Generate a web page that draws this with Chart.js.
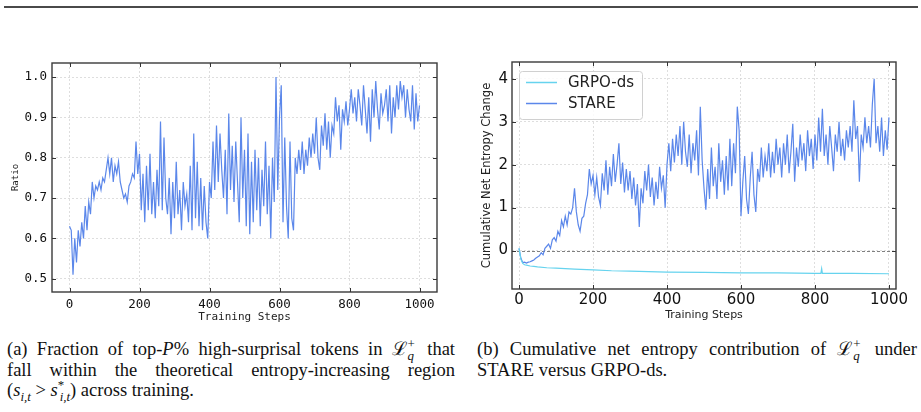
<!DOCTYPE html>
<html lang="en">
<head>
<meta charset="UTF-8">
<title>Surprisal ratio and entropy change</title>
<script src="https://cdn.jsdelivr.net/npm/chart.js@4.4.1/dist/chart.umd.min.js"></script>
<style>
  body { margin: 0; width: 921px; height: 412px; background: #fff; position: relative; overflow: hidden; }
  .rule { position: absolute; left: 4px; top: 6px; width: 914px; height: 2px; background: #4a4a4a; }
  .panel { position: absolute; top: 0; }
  .cap { position: absolute; top: 339px; font-family: "Liberation Serif", "DejaVu Serif", serif; font-size: 18.5px; line-height: 20.5px; color: #111; }
  .cap span.l { display: block; white-space: nowrap; }
  .cap span.j { text-align: justify; text-align-last: justify; white-space: normal; }
  .ms { display: inline-block; position: relative; width: 0.6em; height: 1em; vertical-align: -0.2em; }
  .ms .sp { position: absolute; left: 0.05em; top: -0.45em; font-size: 0.7em; }
  .ms .sb { position: absolute; left: 0.05em; top: 0.45em; font-size: 0.7em; font-style: italic; }
  sub, sup { font-size: 0.7em; line-height: 0; }
</style>
</head>
<body>
<div class="rule"></div>
<canvas id="ratio" class="panel" width="460" height="330" style="left:0"></canvas>
<canvas id="entropy" class="panel" width="461" height="330" style="left:460px"></canvas>

<div class="cap" style="left:7px; width:448px">
  <span class="l j">(a) Fraction of top-<i>P</i>% high-surprisal tokens in ℒ<span class="ms"><span class="sp">+</span><span class="sb">q</span></span> that</span>
  <span class="l j">fall within the theoretical entropy-increasing region</span>
  <span class="l">(<i>s</i><sub><i>i,t</i></sub> &gt; <i>s</i><sup>*</sup><sub style="margin-left:-0.35em"><i>i,t</i></sub>) across training.</span>
</div>
<div class="cap" style="left:477px; width:440px">
  <span class="l j">(b) Cumulative net entropy contribution of ℒ<span class="ms"><span class="sp">+</span><span class="sb">q</span></span> under</span>
  <span class="l">STARE versus GRPO-ds.</span>
</div>

<script>
// training step every 5 steps, 0..1000
const STEPS = Array.from({ length: 201 }, (_, i) => i * 5);
const X_TICKS = [0, 200, 400, 600, 800, 1000];
const RATIO_TICKS = [0.5, 0.6, 0.7, 0.8, 0.9, 1.0];
const ENTROPY_TICKS = [0, 1, 2, 3, 4];

// (a) fraction of high-surprisal tokens in the entropy-increasing region
const RATIO = [
  0.63, 0.62, 0.51, 0.60, 0.54, 0.62, 0.58, 0.64, 0.60, 0.68, 0.62,
  0.69, 0.66, 0.74, 0.70, 0.73, 0.72, 0.74, 0.72, 0.75, 0.74,
  0.77, 0.80, 0.76, 0.80, 0.74, 0.78, 0.76, 0.79, 0.74, 0.72,
  0.70, 0.71, 0.69, 0.73, 0.74, 0.76, 0.75, 0.84, 0.76, 0.81,
  0.67, 0.76, 0.64, 0.78, 0.67, 0.81, 0.66, 0.74, 0.65, 0.77,
  0.68, 0.89, 0.67, 0.85, 0.70, 0.66, 0.75, 0.61, 0.74, 0.65,
  0.79, 0.66, 0.72, 0.62, 0.74, 0.68, 0.71, 0.64, 0.78, 0.62,
  0.86, 0.65, 0.79, 0.63, 0.75, 0.62, 0.73, 0.64, 0.60, 0.74,
  0.70, 0.84, 0.72, 0.88, 0.74, 0.86, 0.77, 0.70, 0.82, 0.66,
  0.91, 0.72, 0.83, 0.69, 0.84, 0.74, 0.64, 0.90, 0.70, 0.82,
  0.63, 0.86, 0.61, 0.79, 0.64, 0.82, 0.67, 0.80, 0.63, 0.77,
  0.68, 0.84, 0.66, 0.78, 0.60, 0.80, 0.69, 1.00, 0.72, 0.90,
  0.98, 0.64, 0.85, 0.68, 0.60, 0.84, 0.65, 0.62, 0.80, 0.76,
  0.82, 0.77, 0.84, 0.76, 0.82, 0.78, 0.85, 0.80, 0.86, 0.81,
  0.90, 0.80, 0.77, 0.88, 0.83, 0.91, 0.82, 0.89, 0.80, 0.88,
  0.86, 0.95, 0.89, 0.93, 0.82, 0.92, 0.89, 0.94, 0.88, 0.92,
  0.97, 0.91, 0.95, 0.89, 0.97, 0.93, 0.88, 0.98, 0.92, 0.86,
  0.95, 0.84, 0.97, 0.90, 0.99, 0.92, 0.87, 0.96, 0.91, 0.93,
  0.97, 0.89, 0.98, 0.86, 0.95, 0.90, 0.98, 0.92, 0.99, 0.95,
  0.98, 0.90, 0.97, 0.92, 0.89, 0.98, 0.87, 0.96, 0.89, 0.93
];

// (b) cumulative net entropy change, STARE
const STARE = [
  0.05, -0.18, -0.28, -0.27, -0.29, -0.27, -0.26, -0.24, -0.22, -0.18, -0.15,
  -0.12, -0.05, -0.10, 0.05, 0.10, 0.15, 0.05, 0.25, 0.30, 0.22,
  0.45, 0.35, 0.70, 0.55, 0.80, 0.60, 0.90, 0.85, 1.00, 1.45,
  0.90, 0.60, 0.45, 0.75, 0.80, 1.10, 1.30, 1.90, 1.55, 1.75,
  1.30, 1.70, 1.25, 1.05, 1.80, 1.40, 2.10, 1.30, 1.95, 1.50,
  2.25, 1.60, 2.00, 2.50, 1.55, 2.05, 1.35, 1.90, 1.40, 1.85,
  1.20, 1.70, 1.05, 1.55, 0.55, 1.45, 1.10, 1.85, 1.40, 2.00,
  1.25, 1.70, 1.05, 1.60, 1.20, 1.95, 1.45, 1.75, 1.00, 2.00,
  2.50, 1.85, 2.60, 2.05, 2.70, 2.20, 2.90, 2.00, 3.00, 2.30,
  1.95, 2.70, 1.80, 2.50, 2.10, 2.80, 1.75, 3.35, 2.10, 1.45,
  0.95, 1.90, 1.20, 2.40, 1.50, 1.95, 1.20, 2.50, 1.60, 2.10,
  1.30, 2.20, 1.40, 2.60, 1.50, 2.50, 1.80, 3.35, 2.80, 0.80,
  1.60, 2.20, 1.20, 0.85, 1.70, 2.30, 1.30, 0.90, 1.90, 1.60,
  2.40, 1.70, 2.20, 1.85, 2.50, 1.70, 2.30, 1.80, 2.60, 2.00,
  2.40, 1.70, 2.50, 2.00, 2.70, 1.80, 2.30, 2.95, 1.60, 2.40,
  1.95, 2.70, 2.10, 2.50, 1.85, 2.80, 2.20, 2.60, 1.90, 2.70,
  2.10, 3.10, 2.30, 3.30, 2.20, 2.70, 2.00, 2.90, 2.40, 1.85,
  2.70, 2.30, 3.00, 2.20, 2.60, 2.10, 2.80, 2.40, 2.90, 2.30,
  3.50, 2.60, 2.90, 1.60, 2.70, 2.40, 3.10, 2.50, 2.90, 2.40,
  3.40, 4.00, 2.50, 2.90, 2.30, 3.10, 2.20, 2.80, 2.35, 3.10
];

// (b) GRPO-ds, smooth curve read at these steps
const GRPO_STEPS = [0, 5, 10, 15, 20, 30, 40, 50, 75, 100, 150, 200, 250, 300, 400, 500, 600, 700, 800, 816, 818, 820, 900, 1000];
const GRPO = [0.05, -0.20, -0.30, -0.33, -0.34, -0.36, -0.37, -0.38, -0.40, -0.41, -0.43, -0.45, -0.47, -0.48, -0.50, -0.51, -0.52, -0.52, -0.53, -0.53, -0.42, -0.53, -0.53, -0.54];

const BLUE = '#5b87ea';
const CYAN = '#66d3ee';
const GRID = { color: '#d6d6d6', lineWidth: 0.8, drawTicks: false };
const BORDER = { display: false, dash: [2, 2] };

// box around the plot plus inward tick marks on all four sides
const frame = {
  id: 'frame',
  afterDraw(chart) {
    const { ctx, chartArea: a, scales } = chart;
    ctx.save();
    ctx.strokeStyle = '#333';
    ctx.lineWidth = 1;
    ctx.beginPath();
    scales.x.ticks.forEach(t => {
      const p = Math.round(scales.x.getPixelForValue(t.value)) + 0.5;
      ctx.moveTo(p, a.bottom); ctx.lineTo(p, a.bottom - 4);
      ctx.moveTo(p, a.top); ctx.lineTo(p, a.top + 4);
    });
    scales.y.ticks.forEach(t => {
      const p = Math.round(scales.y.getPixelForValue(t.value)) + 0.5;
      ctx.moveTo(a.left, p); ctx.lineTo(a.left + 4, p);
      ctx.moveTo(a.right, p); ctx.lineTo(a.right - 4, p);
    });
    ctx.stroke();
    ctx.lineWidth = 1.4;
    ctx.strokeStyle = '#3a3a3a';
    ctx.strokeRect(a.left, a.top, a.width, a.height);
    ctx.restore();
  }
};

// dashed reference line at zero
const zeroLine = {
  id: 'zeroLine',
  beforeDatasetsDraw(chart) {
    const { ctx, chartArea: a, scales } = chart;
    const y = Math.round(scales.y.getPixelForValue(0)) + 0.5;
    ctx.save();
    ctx.strokeStyle = '#808080';
    ctx.lineWidth = 1;
    ctx.setLineDash([3, 2]);
    ctx.beginPath();
    ctx.moveTo(a.left, y);
    ctx.lineTo(a.right, y);
    ctx.stroke();
    ctx.restore();
  }
};

// matplotlib-style legend box in the top-left corner of the plot
const boxLegend = {
  id: 'boxLegend',
  afterDraw(chart) {
    const { ctx, chartArea: a } = chart;
    const x = a.left + 7, y = a.top + 9, w = 123, h = 48;
    ctx.save();
    ctx.fillStyle = 'rgba(255,255,255,0.85)';
    ctx.strokeStyle = '#d0d0d0';
    ctx.lineWidth = 1;
    ctx.beginPath();
    ctx.roundRect(x + 0.5, y + 0.5, w, h, 3);
    ctx.fill();
    ctx.stroke();
    ctx.font = '15px "DejaVu Sans"';
    ctx.textBaseline = 'middle';
    chart.data.datasets.forEach((ds, i) => {
      const ly = y + 11.5 + i * 21;
      ctx.strokeStyle = ds.borderColor;
      ctx.lineWidth = 1.5;
      ctx.beginPath();
      ctx.moveTo(x + 7, ly);
      ctx.lineTo(x + 38, ly);
      ctx.stroke();
      ctx.fillStyle = '#222';
      ctx.fillText(ds.label, x + 49, ly + 1);
    });
    ctx.restore();
  }
};

const MONO = '"DejaVu Sans Mono", monospace';
const SANS = '"DejaVu Sans", sans-serif';
const plain = v => String(v);

new Chart(document.getElementById('ratio'), {
  type: 'line',
  data: {
    datasets: [{
      label: 'Ratio',
      data: STEPS.map((s, i) => ({ x: s, y: RATIO[i] })),
      borderColor: BLUE,
      borderWidth: 1.2,
      pointRadius: 0,
      tension: 0
    }]
  },
  options: {
    responsive: false,
    animation: false,
    layout: { padding: { top: 63, right: 23, bottom: 6, left: 10 } },
    plugins: { legend: { display: false }, tooltip: { enabled: false } },
    scales: {
      x: {
        type: 'linear', min: -50, max: 1050,
        afterBuildTicks: s => { s.ticks = X_TICKS.map(v => ({ value: v })); },
        afterFit: s => { s.height = 32; },
        grid: GRID, border: BORDER,
        ticks: { font: { family: MONO, size: 12.5 }, color: '#111', padding: 5, maxRotation: 0, callback: plain },
        title: { display: true, text: 'Training Steps', font: { family: MONO, size: 11 }, color: '#222', padding: 0 }
      },
      y: {
        min: 0.467, max: 1.035,
        afterBuildTicks: s => { s.ticks = RATIO_TICKS.map(v => ({ value: v })); },
        afterFit: s => { s.width = 42; },
        grid: GRID, border: BORDER,
        ticks: { font: { family: MONO, size: 12.5 }, color: '#111', padding: 5, callback: v => v.toFixed(1) },
        title: { display: true, text: 'Ratio', font: { family: MONO, size: 9 }, color: '#222', padding: 0 }
      }
    }
  },
  plugins: [frame]
});

new Chart(document.getElementById('entropy'), {
  type: 'line',
  data: {
    datasets: [{
      label: 'GRPO-ds',
      data: GRPO_STEPS.map((s, i) => ({ x: s, y: GRPO[i] })),
      borderColor: CYAN,
      borderWidth: 1.2,
      pointRadius: 0,
      tension: 0
    }, {
      label: 'STARE',
      data: STEPS.map((s, i) => ({ x: s, y: STARE[i] })),
      borderColor: BLUE,
      borderWidth: 1.2,
      pointRadius: 0,
      tension: 0
    }]
  },
  options: {
    responsive: false,
    animation: false,
    layout: { padding: { top: 62, right: 25, bottom: 8, left: 20 } },
    plugins: { legend: { display: false }, tooltip: { enabled: false } },
    scales: {
      x: {
        type: 'linear', min: -19, max: 1019,
        afterBuildTicks: s => { s.ticks = X_TICKS.map(v => ({ value: v })); },
        afterFit: s => { s.height = 33; },
        grid: GRID, border: BORDER,
        ticks: { font: { family: SANS, size: 15 }, color: '#111', padding: 2, maxRotation: 0, callback: plain },
        title: { display: true, text: 'Training Steps', font: { family: SANS, size: 11 }, color: '#222', padding: 0 }
      },
      y: {
        min: -0.895, max: 4.39,
        afterBuildTicks: s => { s.ticks = ENTROPY_TICKS.map(v => ({ value: v })); },
        afterFit: s => { s.width = 32; },
        grid: GRID, border: BORDER,
        ticks: { font: { family: SANS, size: 15 }, color: '#111', padding: 4, callback: plain },
        title: { display: true, text: 'Cumulative Net Entropy Change', font: { family: SANS, size: 11.5 }, color: '#222', padding: 0 }
      }
    }
  },
  plugins: [zeroLine, frame, boxLegend]
});
</script>
</body>
</html>
